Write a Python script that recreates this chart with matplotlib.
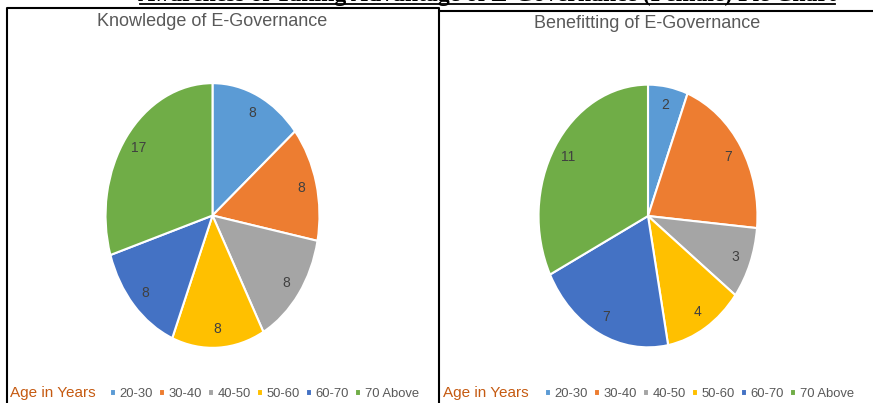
import matplotlib.pyplot as plt
from matplotlib.lines import Line2D

W, H = 873, 403

# data
age_groups = ['20-30', '30-40', '40-50', '50-60', '60-70', '70 Above']
knowledge = [8, 8, 8, 8, 8, 17]
benefitting = [2, 7, 3, 4, 7, 11]
colors = ['#5B9BD5', '#ED7D31', '#A5A5A5', '#FFC000', '#4472C4', '#70AD47']

main_title = 'Awareness of Taking Advantage of E-Governance (Female) Pie Chart'
titles = ['Knowledge of E-Governance', 'Benefitting of E-Governance']

fig = plt.figure(figsize=(W / 100, H / 100), dpi=100)
fig.patch.set_facecolor('white')


def px_axes(cx, cy, rx, ry):
    # axes box in pixel coords (y from top)
    return fig.add_axes([(cx - rx) / W, 1 - (cy + ry) / H, 2 * rx / W, 2 * ry / H])


# cut-off main title at the top
fig.text(487 / W, 1 - 1.5 / H, main_title, ha='center', va='baseline',
         family='Liberation Serif', weight='bold', fontsize=17)
fig.add_artist(Line2D([140 / W, 835 / W], [1 - 4 / H, 1 - 4 / H],
                      transform=fig.transFigure, color='black', lw=1.3))

# panel borders
fig.add_artist(Line2D([7 / W, 7 / W, 438.5 / W, 438.5 / W],
                      [0, 1 - 8 / H, 1 - 8 / H, 0],
                      transform=fig.transFigure, color='black', lw=1.5))
fig.add_artist(Line2D([440 / W, 873 / W], [1 - 10.5 / H, 1 - 10.5 / H],
                      transform=fig.transFigure, color='black', lw=1.5))

panels = [
    (knowledge, titles[0], (212.5, 215.5, 107.5, 133), 212, 22, 10, 110),
    (benefitting, titles[1], (648, 216, 110, 132), 647, 24, 443, 545),
]

for vals, title, geom, tx, ty, age_x, leg_x in panels:
    ax = px_axes(*geom)
    wedges, texts = ax.pie(vals, colors=colors, startangle=90, counterclock=False,
                           labels=[str(v) for v in vals], labeldistance=0.86,
                           wedgeprops=dict(edgecolor='white', linewidth=1.5),
                           textprops=dict(color='#404040', fontsize=10,
                                          family='Liberation Sans', ha='center',
                                          va='center'))
    ax.set_aspect('auto')
    ax.set_xlim(-1.005, 1.005)
    ax.set_ylim(-1.005, 1.005)
    ax.axis('off')

    fig.text(tx / W, 1 - ty / H, title, ha='center', va='center',
             color='#595959', fontsize=13, family='Liberation Sans')

    fig.text(age_x / W, 1 - 393 / H, 'Age in Years', ha='left', va='center',
             color='#C55A11', fontsize=11, family='Liberation Sans')
    fig.legend(wedges, age_groups, ncol=6, loc='center left',
               bbox_to_anchor=(leg_x / W, 1 - 394 / H), frameon=False,
               handlelength=0.45, handleheight=0.45, handletextpad=0.3,
               columnspacing=0.45, borderpad=0, borderaxespad=0,
               prop=dict(family='Liberation Sans', size=9.4),
               labelcolor='#595959')

fig.savefig('out.png', dpi=100)
